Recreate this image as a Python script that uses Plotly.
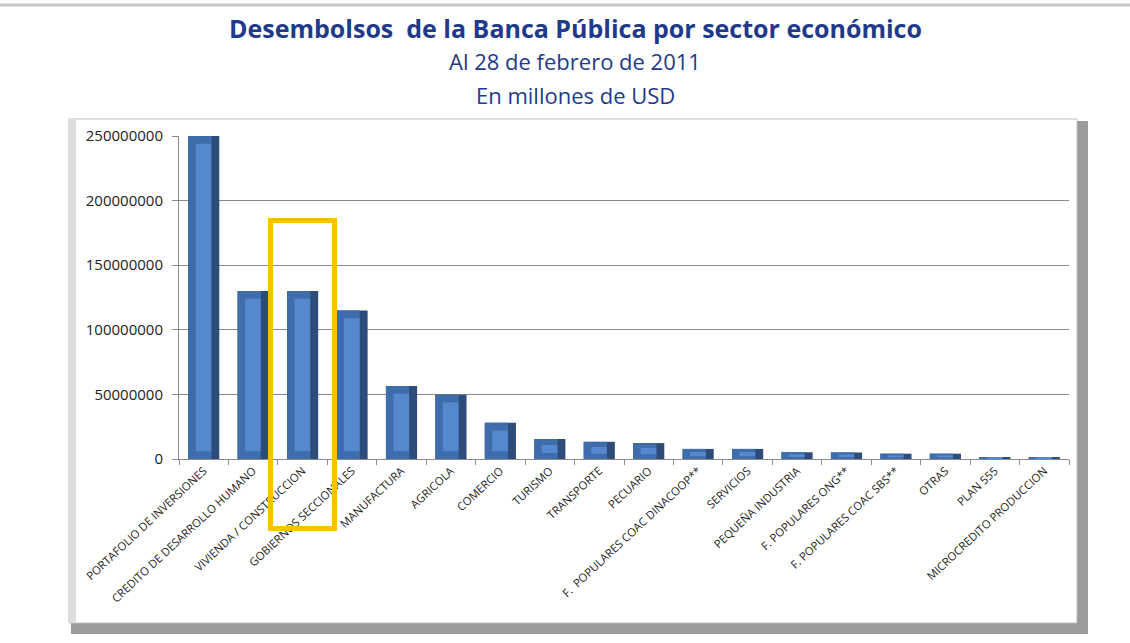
import plotly.graph_objects as go

categories = [
    "PORTAFOLIO DE INVERSIONES", "CREDITO DE DESARROLLO HUMANO", "VIVIENDA / CONSTRUCCION",
    "GOBIERNOS SECCIONALES", "MANUFACTURA", "AGRICOLA", "COMERCIO", "TURISMO",
    "TRANSPORTE", "PECUARIO", "F.  POPULARES COAC DINACOOP**", "SERVICIOS",
    "PEQUEÑA INDUSTRIA", "F. POPULARES ONG**", "F. POPULARES COAC SBS**", "OTRAS",
    "PLAN 555", "MICROCREDITO PRODUCCION",
]
values = [
    250000000, 130000000, 130000000, 115000000, 56500000, 49800000, 28000000, 15500000,
    13300000, 12300000, 7800000, 7800000, 5200000, 5100000, 4100000, 4100000,
    1500000, 1500000,
]
y_ticks = [0, 50000000, 100000000, 150000000, 200000000, 250000000]

W, H = 1130, 643
L, R, T, B = 179, 1069, 136, 459

# bevel depth of the 3D bar faces (style, in axis units)
BEVEL = 6000000
face_base = [min(BEVEL, v * 0.3) for v in values]
face_len = [v - 2 * b for v, b in zip(values, face_base)]


def px(x):
    return (x - L) / (R - L)


def py(y):
    return (B - y) / (B - T)


fig = go.Figure()
BW = 0.63
fig.add_trace(go.Bar(x=categories, y=values, width=BW, offset=-BW / 2,
                     marker=dict(color="#2D4C79", line=dict(width=0)), hoverinfo="x+y"))
fig.add_trace(go.Bar(x=categories, y=values, width=BW * 0.75, offset=-BW / 2,
                     marker=dict(color="#3F6CAA", line=dict(width=0)), hoverinfo="skip"))
fig.add_trace(go.Bar(x=categories, y=face_len, base=face_base, width=BW * 0.5, offset=-BW / 2 + BW * 0.24,
                     marker=dict(color="#5688CD", line=dict(width=0)), hoverinfo="skip"))

shapes = [
    # slide top line
    dict(type="line", xref="paper", yref="paper", x0=px(0), x1=px(W), y0=py(5), y1=py(5),
         line=dict(color="#C8C8C8", width=3), layer="below"),
    # frame shadow bands (right / bottom)
    dict(type="rect", xref="paper", yref="paper", x0=px(71), x1=px(1088), y0=py(634), y1=py(121),
         fillcolor="#9B9B9B", line=dict(width=0), layer="below"),
    # frame face
    dict(type="rect", xref="paper", yref="paper", x0=px(69), x1=px(1077), y0=py(623), y1=py(119),
         fillcolor="white", line=dict(color="#BDBDBD", width=1), layer="below"),
    # left bevel strip
    dict(type="rect", xref="paper", yref="paper", x0=px(70), x1=px(76), y0=py(622), y1=py(120),
         fillcolor="#DDDDDD", line=dict(width=0), layer="below"),
    # highlight box
    dict(type="rect", xref="paper", yref="paper", x0=px(270.5), x1=px(334.5), y0=py(528.5), y1=py(220.5),
         fillcolor="rgba(0,0,0,0)", line=dict(color="#FFC000", width=5), layer="above"),
]

title_color = "#1F3A8A"
fig.update_layout(
    width=W, height=H,
    margin=dict(l=L, r=W - R, t=T, b=H - B),
    paper_bgcolor="white", plot_bgcolor="rgba(0,0,0,0)",
    barmode="overlay", showlegend=False,
    font=dict(family="Open Sans, sans-serif", color="#222"),
    shapes=shapes,
    annotations=[
        dict(text="<b>Desembolsos  de la Banca Pública por sector económico</b>", xref="paper", yref="paper",
             x=px(575), y=py(28), xanchor="center", yanchor="middle", showarrow=False,
             font=dict(size=25, color=title_color, family="Open Sans")),
        dict(text="Al 28 de febrero de 2011", xref="paper", yref="paper",
             x=px(575), y=py(61), xanchor="center", yanchor="middle", showarrow=False,
             font=dict(size=22, color=title_color, family="Open Sans")),
        dict(text="En millones de USD", xref="paper", yref="paper",
             x=px(575), y=py(95), xanchor="center", yanchor="middle", showarrow=False,
             font=dict(size=22, color=title_color, family="Open Sans")),
    ],
    xaxis=dict(
        tickangle=-43, tickfont=dict(size=11.3, color="#222", family="Open Sans"),
        showline=True, linecolor="#8A8A8A", linewidth=1,
        ticks="outside", tickson="boundaries", ticklen=5, tickcolor="#8A8A8A",
        showgrid=False,
    ),
    yaxis=dict(
        range=[0, 250000000], tickvals=y_ticks, tickformat="d",
        tickfont=dict(size=15, color="#222", family="Open Sans"),
        showline=True, linecolor="#8A8A8A", linewidth=1,
        ticks="outside", ticklen=6, tickcolor="#8A8A8A", ticklabelstandoff=6,
        showgrid=True, gridcolor="#8A8A8A", gridwidth=1, zeroline=False,
    ),
)

fig.write_html("out.html", config={"displayModeBar": False},
               post_script="document.body.style.margin='0';")
